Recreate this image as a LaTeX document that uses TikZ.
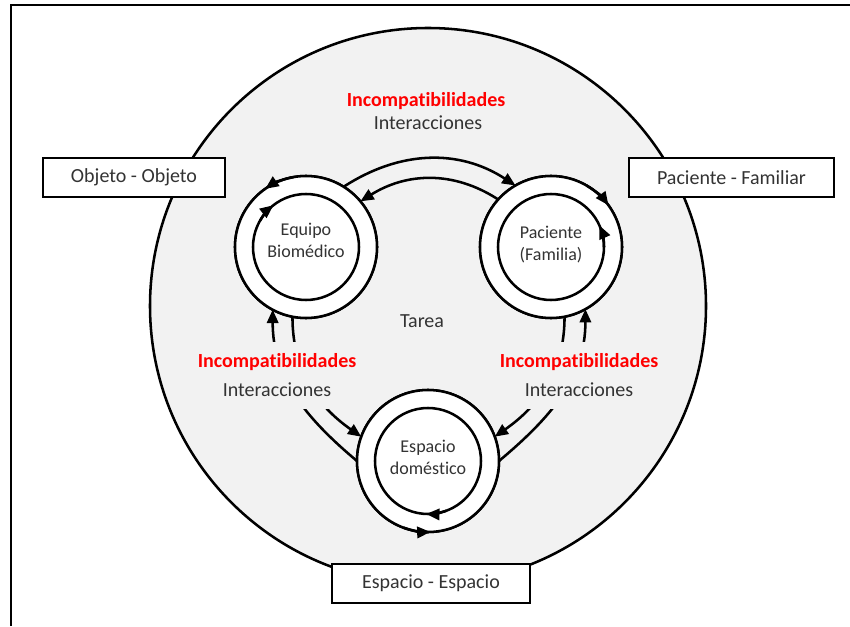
\documentclass[tikz,border=0pt]{standalone}
\usepackage{fontspec}
\setmainfont{Carlito}[Ligatures=NoCommon]
\usetikzlibrary{arrows.meta}
\definecolor{bggray}{HTML}{F2F2F2}
\definecolor{txt}{HTML}{333333}
\definecolor{hot}{HTML}{FF0000}
\begin{document}
\begin{tikzpicture}[x=0.75pt,y=0.75pt,
  tip/.style={-{Triangle[length=10pt,width=8.5pt]}},
  wire/.style={line width=1.9pt},
  ring/.style={circle, draw, line width=1.9pt, fill=white, minimum size=106.5pt, inner sep=0pt, outer sep=0pt},
  core/.style={circle, draw, line width=1.9pt, minimum size=79.5pt, inner sep=0pt, outer sep=0pt},
  inlabel/.style={align=center, text=txt, font=\fontsize{13.5}{16.5}\selectfont, inner sep=0pt},
  tag/.style={rectangle, draw, line width=0.8pt, fill=white, minimum height=29.25pt, inner sep=0pt, text=txt, font=\fontsize{15}{18}\selectfont},
  duo/.style={align=center, text=txt, fill=bggray, inner xsep=2pt, inner ysep=9pt, font=\fontsize{15}{21.75}\selectfont},
  word/.style={text=txt, font=\fontsize{15}{18}\selectfont},
  hotword/.style={text=hot, font=\fontsize{15}{18}\selectfont\bfseries}
]
\useasboundingbox (0,0) rectangle (850,626);
\fill[white] (0,0) rectangle (850,626);

% outer frame (top and left edges)
\draw[line width=2.2pt, line join=miter] (11,0) -- (11,621) -- (850,621);

% shared field
\node[circle, draw, line width=1.9pt, fill=bggray, minimum size=417pt, inner sep=0pt] (field) at (428,320) {};

% element rings
\node[ring] (eq)  at (306,379) {};
\node[ring] (pac) at (551,379) {};
\node[ring] (esp) at (428,165) {};

% connectors between the elements
\draw[wire, tip] (eq.58)   to[out=33,  in=147] (pac.120);
\draw[wire, tip] (pac.138) to[out=147, in=32]  (eq.40);
\draw[wire, tip] (esp.180) to[out=140, in=-90] (eq.242);
\draw[wire, tip] (eq.259)  to[out=-90, in=145] (esp.160);
\draw[wire, tip] (pac.281) to[out=-90, in=35]  (esp.20);
\draw[wire, tip] (esp.0)   to[out=40,  in=-90] (pac.299);

% labels along the connectors
\node[hotword] (topinc) at (426,525) {Incompatibilidades};
\node[word]    (topint) at (428,503) {Interacciones};
\node[word]    (task)   at (422,305) {Tarea};
\node[duo] (leftlbl)  at (277,250.5) {\textcolor{hot}{\bfseries Incompatibilidades}\\Interacciones};
\node[duo] (rightlbl) at (579,250.5) {\textcolor{hot}{\bfseries Incompatibilidades}\\Interacciones};

% redraw the rings above the connectors
\node[ring] at (eq.center)  {};
\node[ring] at (pac.center) {};
\node[ring] at (esp.center) {};
\node[core] (eqi)  at (eq.center)  {};
\node[core] (paci) at (pac.center) {};
\node[core] (espi) at (esp.center) {};
\node[inlabel] (eqtxt)  at (306,386)   {Equipo\\Biomédico};
\node[inlabel] (pactxt) at (551,381.5) {Paciente\\(Familia)};
\node[inlabel] (esptxt) at (428,169)   {Espacio\\doméstico};

% circulating arrows on the rings
\draw[wire, tip] (eq.center)  ++(100:71) arc[start angle=100, end angle=125, radius=71];
\draw[wire, tip] (eq.center)  ++(150:53) arc[start angle=150, end angle=128, radius=53];
\draw[wire, tip] (pac.center) ++(60:71)  arc[start angle=60,  end angle=36,  radius=71];
\draw[wire, tip] (pac.center) ++(0:53)   arc[start angle=0,   end angle=24,  radius=53];
\draw[wire, tip] (esp.center) ++(-110:71) arc[start angle=-110, end angle=-88, radius=71];
\draw[wire, tip] (esp.center) ++(-70:53)  arc[start angle=-70,  end angle=-92, radius=53];

% relation boxes
\node[tag, minimum width=136.5pt]  (objbox) at (134,448.5)   {Objeto - Objeto};
\node[tag, minimum width=153.75pt] (pacbox) at (731.5,448.5) {Paciente - Familiar};
\node[tag, minimum width=148.5pt]  (espbox) at (431,42.5)    {Espacio - Espacio};
\end{tikzpicture}
\end{document}
